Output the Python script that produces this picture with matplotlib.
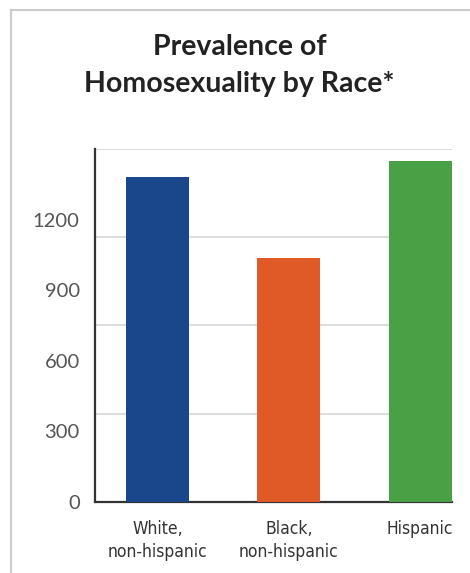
import matplotlib
matplotlib.use("Agg")
import matplotlib.pyplot as plt
from matplotlib.lines import Line2D

# data
races = ["White,\nnon-hispanic", "Black,\nnon-hispanic", "Hispanic"]
prevalence = [1380, 1036, 1447]
bar_colors = ["#1a468c", "#e05a28", "#4aa045"]
y_ticks = [0, 300, 600, 900, 1200]
grid_lines = [375, 750, 1125, 1500]

fig = plt.figure(figsize=(4.7, 5.73), dpi=100)
ax = fig.add_axes([0.2021, 0.1244, 0.7589, 0.6156])

x = range(len(races))
ax.bar(x, prevalence, width=0.48, color=bar_colors, zorder=3)

ax.set_ylim(0, 1500)
ax.set_xlim(-0.477, 2.24)

ax.set_yticks(y_ticks)
ax.set_yticklabels([str(v) for v in y_ticks], family=["Lato", "DejaVu Sans"],
                   fontsize=14.5, color="#555555")
ax.set_yticks(grid_lines, minor=True)
ax.grid(True, which="minor", axis="y", color="#dddddd", linewidth=1.5, zorder=0)
ax.tick_params(axis="y", which="both", length=0, pad=11)

ax.set_xticks(list(x))
ax.set_xticklabels(races, family="DejaVu Sans", stretch="condensed",
                   fontsize=12.5, color="#333333", linespacing=1.35)
ax.tick_params(axis="x", length=0, pad=13)

for side in ["top", "right"]:
    ax.spines[side].set_visible(False)
for side in ["left", "bottom"]:
    ax.spines[side].set_color("#333333")
    ax.spines[side].set_linewidth(1.6)

fig.text(0.51, 0.886, "Prevalence of\nHomosexuality by Race*", ha="center", va="center",
         family=["Lato", "DejaVu Sans"], fontweight="bold", fontsize=20.5,
         color="#222222", linespacing=1.5)

# light frame round the panel
fig.add_artist(Line2D([0.0234, 0.0234], [0.0, 0.9825], color="#cccccc", linewidth=1.5))
fig.add_artist(Line2D([0.0234, 1.0], [0.9825, 0.9825], color="#cccccc", linewidth=1.5))

fig.savefig("out.png", dpi=100)
